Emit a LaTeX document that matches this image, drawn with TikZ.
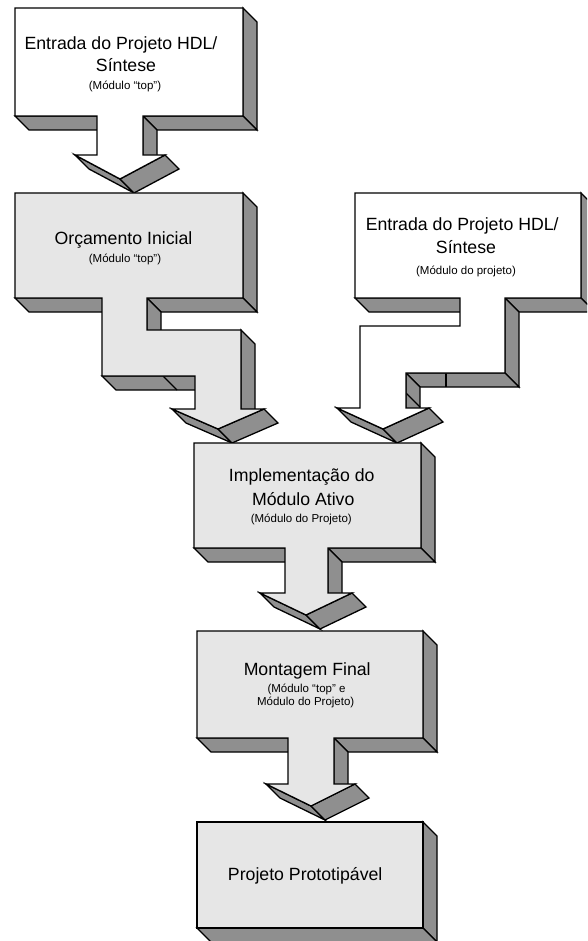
\documentclass[tikz,border=0pt]{standalone}
\usepackage{fontspec}
\setmainfont{Liberation Sans}
\definecolor{facelight}{HTML}{E6E6E6}
\definecolor{sidegray}{HTML}{8F8F8F}
\begin{document}
\begin{tikzpicture}[x=1pt,y=-1pt,
  outline/.style={draw=black,line width=1.3pt,line join=miter},
  whiteface/.style={outline,fill=white},
  greyface/.style={outline,fill=facelight},
  side/.style={outline,fill=sidegray},
  seam/.style={draw=black,line width=1.1pt},
  title/.style={anchor=base,inner sep=0pt,font=\fontsize{17.7}{20}\selectfont},
  note/.style={anchor=base,inner sep=0pt,font=\fontsize{11.5}{13}\selectfont}]
\fill[white] (0,0) rectangle (587,941);
\clip (0,0) rectangle (587,941);

% ---- Stage 1: HDL entry / synthesis (top module), straight 3D arrow
\path[side] (243,8) -- (257,22) -- (257,130) -- (243,116) -- cycle;
\path[side] (143,116) -- (243,116) -- (257,130) -- (157,130) -- cycle;
\path[side] (15,116) -- (97,116) -- (111,130) -- (29,130) -- cycle;
\path[side] (143,116) -- (157,130) -- (157,169) -- (143,155) -- cycle;
\path[side] (75,155) -- (120,179) -- (134,193) -- (89,169) -- cycle;
\path[side] (120,179) -- (165,155) -- (179,169) -- (134,193) -- cycle;
\path[whiteface] (15,8) -- (243,8) -- (243,116) -- (143,116) -- (143,155)
  -- (165,155) -- (120,179) -- (75,155) -- (97,155) -- (97,116) -- (15,116) -- cycle;

% ---- Stage 2: initial budget, arrow with a step to the right
\path[side] (243,193) -- (257,207) -- (257,312) -- (243,298) -- cycle;
\path[side] (147,298) -- (243,298) -- (257,312) -- (161,312) -- cycle;
\path[side] (15,298) -- (102,298) -- (116,312) -- (29,312) -- cycle;
\path[side] (147,298) -- (161,312) -- (161,344) -- (147,330) -- cycle;
\path[side] (241,330) -- (255,344) -- (255,423) -- (241,409) -- cycle;
\path[side] (102,376) -- (195,376) -- (209,390) -- (116,390) -- cycle;
\draw[seam] (163,376) -- (177,390);
\path[side] (172,409) -- (218,429) -- (232,443) -- (186,423) -- cycle;
\path[side] (218,429) -- (264,409) -- (278,423) -- (232,443) -- cycle;
\path[greyface] (15,193) -- (243,193) -- (243,298) -- (147,298) -- (147,330)
  -- (241,330) -- (241,409) -- (264,409) -- (218,429) -- (172,409) -- (195,409)
  -- (195,376) -- (102,376) -- (102,298) -- (15,298) -- cycle;

% ---- Stage 3: HDL entry / synthesis (design module), arrow with a step to the left
\path[side] (581,193) -- (595,207) -- (595,312) -- (581,298) -- cycle;
\path[side] (355,298) -- (460,298) -- (474,312) -- (369,312) -- cycle;
\path[side] (505,298) -- (581,298) -- (595,312) -- (519,312) -- cycle;
\path[side] (505,298) -- (519,312) -- (519,387) -- (505,373) -- cycle;
\path[side] (406,373) -- (505,373) -- (519,387) -- (420,387) -- cycle;
\draw[seam] (446,373) -- (446,387);
\path[side] (406,373) -- (420,387) -- (420,422) -- (406,408) -- cycle;
\draw[seam] (406,393) -- (420,407);
\path[side] (337,408) -- (383,429) -- (397,443) -- (351,422) -- cycle;
\path[side] (383,429) -- (429,408) -- (443,422) -- (397,443) -- cycle;
\path[whiteface] (355,193) -- (581,193) -- (581,298) -- (505,298) -- (505,373)
  -- (406,373) -- (406,408) -- (429,408) -- (383,429) -- (337,408) -- (360,408)
  -- (360,326) -- (460,326) -- (460,298) -- (355,298) -- cycle;

% ---- Stage 4: active module implementation
\path[side] (421,443) -- (435,457) -- (435,562) -- (421,548) -- cycle;
\path[side] (194,548) -- (285,548) -- (299,562) -- (208,562) -- cycle;
\path[side] (328,548) -- (421,548) -- (435,562) -- (342,562) -- cycle;
\path[side] (328,548) -- (342,562) -- (342,607) -- (328,593) -- cycle;
\path[side] (260,593) -- (306,615) -- (320,629) -- (274,607) -- cycle;
\path[side] (306,615) -- (352,593) -- (366,607) -- (320,629) -- cycle;
\path[greyface] (194,443) -- (421,443) -- (421,548) -- (328,548) -- (328,593)
  -- (352,593) -- (306,615) -- (260,593) -- (285,593) -- (285,548) -- (194,548) -- cycle;

% ---- Stage 5: final assembly
\path[side] (423,631) -- (437,645) -- (437,752) -- (423,738) -- cycle;
\path[side] (197,738) -- (288,738) -- (302,752) -- (211,752) -- cycle;
\path[side] (334,738) -- (423,738) -- (437,752) -- (348,752) -- cycle;
\path[side] (334,738) -- (348,752) -- (348,798) -- (334,784) -- cycle;
\path[side] (266,784) -- (311,806) -- (325,820) -- (280,798) -- cycle;
\path[side] (311,806) -- (355,784) -- (369,798) -- (325,820) -- cycle;
\path[greyface] (197,631) -- (423,631) -- (423,738) -- (334,738) -- (334,784)
  -- (355,784) -- (311,806) -- (266,784) -- (288,784) -- (288,738) -- (197,738) -- cycle;

% ---- Stage 6: prototypable design
\path[side] (423,822) -- (437,836) -- (437,942) -- (423,928) -- cycle;
\path[side] (197,928) -- (423,928) -- (437,942) -- (211,942) -- cycle;
\path[greyface] (197,822) -- (423,822) -- (423,928) -- (197,928) -- cycle;

% ---- Labels
\node[title] (in1a) at (121,50) {Entrada do Projeto HDL/};
\node[title] (in1b) at (126,71.7) {Síntese};
\node[note]  (in1c) at (125,90) {(Módulo “top”)};

\node[title] (orca) at (123.5,244.3) {Orçamento Inicial};
\node[note]  (orcb) at (125,262.5) {(Módulo “top”)};

\node[title] (in2a) at (462.2,230.5) {Entrada do Projeto HDL/};
\node[title] (in2b) at (466,253.3) {Síntese};
\node[note]  (in2c) at (466,274) {(Módulo do projeto)};

\node[title] (impa) at (301.7,481.7) {Implementação do};
\node[title] (impb) at (303.3,505) {Módulo Ativo};
\node[note]  (impc) at (301.3,522) {(Módulo do Projeto)};

\node[title] (mona) at (307.2,675) {Montagem Final};
\node[note]  (monb) at (306.5,692) {(Módulo “top” e};
\node[note]  (monc) at (305.7,705.5) {Módulo do Projeto)};

\node[title] (proto) at (305.2,880) {Projeto Prototipável};
\end{tikzpicture}
\end{document}
